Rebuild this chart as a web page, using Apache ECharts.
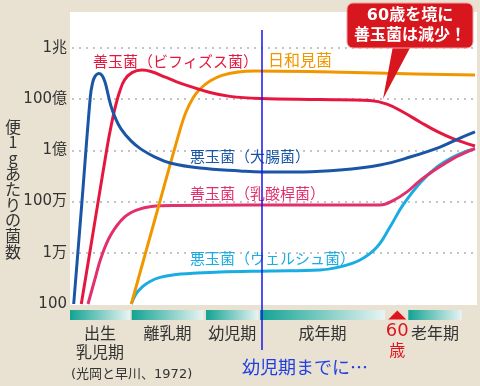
<!DOCTYPE html>
<html><head><meta charset="utf-8">
<script src="https://cdn.jsdelivr.net/npm/echarts@6/dist/echarts.min.js"></script>
<style>html,body{margin:0;padding:0;background:#e9e2d2;}#c{width:480px;height:386px;}</style>
</head><body><div id="c"></div>
<script>
// ---- data (x: position along the life-stage axis, arbitrary units 0..403; y: log10 of bacteria per gram) ----
const yTickLabels = ['100', '1万', '100万', '1億', '100億', '1兆'];
const ecoliLog = [[1.7,2.00],[10,6.02],[18.3,10.09],[20.5,10.63],[23,10.89],[26.5,11.00],[30,10.93],[33,10.67],[36,10.20],[39,9.73],[43,9.30],[49,8.84],[59,8.37],[69,8.05],[83,7.74],[98,7.51],[128,7.31],[168,7.20],[190,7.16],[231,7.16],[268,7.23],[308,7.43],[338,7.74],[368,8.13],[388,8.48],[403,8.72]];
const bifidusLog = [[9.3,2.00],[22.5,5.13],[35.5,8.21],[39.5,9.03],[43.5,9.73],[47.5,10.28],[52.5,10.75],[60,11.04],[70,11.14],[79,11.08],[94,10.85],[104,10.69],[118,10.50],[138,10.26],[158,10.11],[188,10.03],[248,9.99],[298,9.95],[315,9.81],[331,9.50],[348,9.11],[365,8.74],[381,8.46],[403,8.17]];
const opportunistLog = [[59.3,2.00],[83,5.32],[108,8.80],[114,9.50],[121,10.05],[128,10.40],[138,10.71],[150,10.93],[166,11.06],[183,11.10],[248,11.07],[315,11.01],[403,10.95]];
const lactobacLog = [[16,2.00],[22.7,2.94],[29.3,3.84],[39.3,4.73],[52.7,5.40],[66,5.69],[79.3,5.81],[104,5.85],[248,5.87],[308,5.87],[321,6.04],[335,6.38],[348,6.82],[365,7.29],[381,7.68],[395,7.94],[403,8.07]];
const welchiiLog = [[59.3,2.00],[64,2.39],[70,2.66],[78,2.88],[88,3.04],[104,3.15],[118,3.19],[148,3.25],[198,3.29],[248,3.33],[268,3.45],[288,3.72],[305,4.23],[318,5.01],[331,5.87],[348,6.73],[365,7.35],[381,7.74],[395,7.98],[403,8.07]];
const seriesNames = ['悪玉菌（ウェルシュ菌）', '善玉菌（乳酸桿菌）', '日和見菌', '善玉菌（ビフィズス菌）', '悪玉菌（大腸菌）'];
const stageNames = ['出生\n乳児期', '離乳期', '幼児期', '成年期', '老年期'];
const stageStart = [-2, 59.7, 134, 188, 336.3];
const stageEnd = [58, 131.3, 186.3, 313, 389.7];
const age60X = 325.3;
const infancyMarkX = 190;
const calloutText = '60歳を境に\n善玉菌は減少！';
const sourceText = '(光岡と早川、1972)';
const markText = '幼児期までに…';
const yTitle = '便1gあたりの菌数';

// ---- styling ----
const JP = "'Noto Sans CJK JP', sans-serif";
const NUM = "'DejaVu Sans', 'Noto Sans CJK JP', sans-serif";
const colors = ['#19ade3', '#e2306c', '#f29600', '#e6173e', '#1b56a6'];
const toCounts = pts => pts.map(p => [p[0], Math.pow(10, p[1])]);
const allData = [welchiiLog, lactobacLog, opportunistLog, bifidusLog, ecoliLog];

const chart = echarts.init(document.getElementById('c'));
chart.setOption({
  animation: false,
  grid: { left: 72, right: 5, top: 48, bottom: 82 },
  xAxis: { type: 'value', min: 0, max: 403, show: false },
  yAxis: {
    type: 'log', logBase: 100, min: 100, max: 1e12,
    axisLine: { show: false }, axisTick: { show: false },
    axisLabel: {
      formatter: v => yTickLabels[Math.round(Math.log10(v) / 2) - 1],
      color: '#333', fontSize: 15, fontFamily: NUM, margin: 5
    },
    splitLine: { show: true, showMinLine: false, lineStyle: { color: '#c4c4c4', width: 2, type: [2, 5] } }
  },
  series: allData.map((d, i) => ({
    name: seriesNames[i], type: 'line', data: toCounts(d), smooth: 0.4,
    symbol: 'none', lineStyle: { color: colors[i], width: 3 }, z: 3 + i
  }))
});

const px = v => chart.convertToPixel({ xAxisIndex: 0 }, v);
const g = [];
// white plot panel
g.push({ type: 'rect', z: -5, silent: true, shape: { x: 70, y: 12, width: 407, height: 293 }, style: { fill: '#ffffff' } });
// y title
g.push({ type: 'text', style: { text: yTitle.split('').join('\n'), x: 13, y: 119, fill: '#333', fontSize: 16, fontFamily: JP, align: 'center', verticalAlign: 'top', lineHeight: 15.6 } });
// series labels
const lbl = (t, x, y, c, fs) => g.push({ type: 'text', z: 10, style: { text: t, x: x, y: y, fill: c, fontSize: fs, fontFamily: JP, align: 'left', verticalAlign: 'middle' } });
lbl(seriesNames[3], 93, 61, colors[3], 15);
lbl(seriesNames[2], 268, 60, colors[2], 16);
lbl(seriesNames[4], 190, 156, colors[4], 15);
lbl(seriesNames[1], 190, 193, colors[1], 15);
lbl(seriesNames[0], 190, 258, colors[0], 15);
// callout
g.push({ type: 'polygon', z: 20, shape: { points: [[393, 46], [411, 46], [383, 99]] }, style: { fill: '#d7161e' } });
g.push({ type: 'rect', z: 20, shape: { x: 347, y: 3, width: 126, height: 45, r: 6 }, style: { fill: '#d7161e', stroke: '#f2a3a3', lineWidth: 1 } });
g.push({ type: 'text', z: 21, style: { text: calloutText, x: 410, y: 25.5, fill: '#fff', fontSize: 16, fontFamily: NUM, fontWeight: 'bold', align: 'center', verticalAlign: 'middle', lineHeight: 20 } });
// stage bars
stageNames.forEach((n, i) => {
  const x0 = px(stageStart[i]), x1 = px(stageEnd[i]);
  g.push({ type: 'rect', shape: { x: x0, y: 310, width: x1 - x0, height: 10 },
    style: { fill: new echarts.graphic.LinearGradient(0, 0, 1, 0, [{ offset: 0, color: '#12a393' }, { offset: 1, color: '#e9f4f2' }]) } });
  g.push({ type: 'text', style: { text: n, x: (x0 + x1) / 2, y: 324, fill: '#333', fontSize: 16, fontFamily: JP, align: 'center', verticalAlign: 'top', lineHeight: 18.5 } });
});
const ax = px(age60X);
g.push({ type: 'polygon', shape: { points: [[ax, 310.5], [ax - 9, 319.5], [ax + 9, 319.5]] }, style: { fill: '#e0141c' } });
g.push({ type: 'text', style: { text: '60', x: ax, y: 331, fill: '#e0141c', fontSize: 18, fontFamily: NUM, align: 'center', verticalAlign: 'middle' } });
g.push({ type: 'text', style: { text: '歳', x: ax, y: 350, fill: '#e0141c', fontSize: 16, fontFamily: JP, align: 'center', verticalAlign: 'middle' } });
// infancy marker line
const mx = px(infancyMarkX);
g.push({ type: 'line', z: 15, shape: { x1: mx, y1: 30, x2: mx, y2: 350 }, style: { stroke: '#1414f0', lineWidth: 1.5 } });
g.push({ type: 'text', style: { text: markText, x: 242, y: 367, fill: '#1f3fe0', fontSize: 18, fontFamily: JP, align: 'left', verticalAlign: 'middle' } });
// source
g.push({ type: 'text', style: { text: sourceText, x: 71, y: 375, fill: '#333', fontSize: 13, fontFamily: NUM, align: 'left', verticalAlign: 'middle' } });

chart.setOption({ graphic: g });
</script></body></html>
